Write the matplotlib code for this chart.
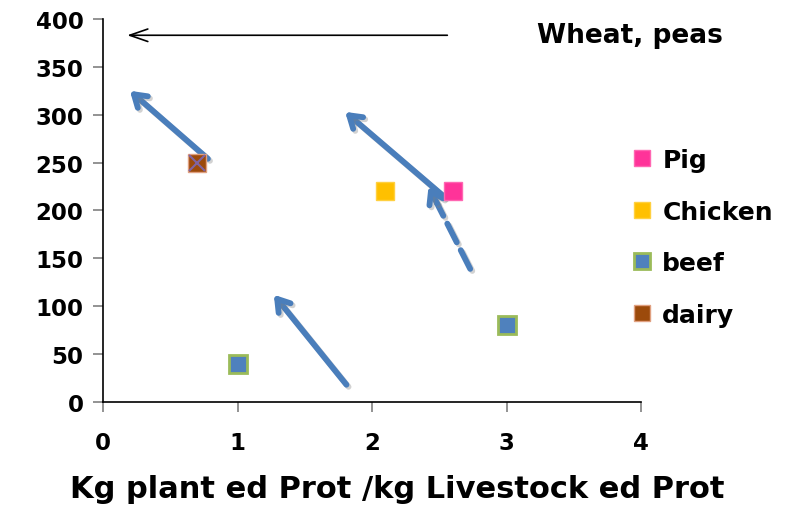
import matplotlib.pyplot as plt
import matplotlib.patheffects as pe

# series values
pig_x = [2.6]
pig_y = [220]
chicken_x = [2.1]
chicken_y = [220]
beef_x = [1.0, 3.0]
beef_y = [40, 80]
dairy_x = [0.7]
dairy_y = [250]

# arrows: (x_start, y_start, x_end, y_end) in data units
solid_arrows = [(0.78, 254, 0.20, 325),
                (2.54, 214, 1.80, 303),
                (1.81, 18, 1.27, 112)]
dashed_arrows = [(2.73, 139, 2.42, 225)]
wheat_arrow = (2.56, 383, 0.18, 383)
wheat_label = 'Wheat, peas'

x_ticks = [0, 1, 2, 3, 4]
y_ticks = [0, 50, 100, 150, 200, 250, 300, 350, 400]

plt.rcParams['font.family'] = ['DejaVu Sans']
plt.rcParams['font.weight'] = 'bold'

fig = plt.figure(figsize=(7.88, 5.06), dpi=100)
ax = fig.add_axes([0.1307, 0.2036, 0.8135 - 0.1307, 0.9605 - 0.2036])

ms = 13
ax.plot(pig_x, pig_y, 's', ms=ms, color='#FF3399', mec='#FF66B2', mew=1, label='Pig', zorder=3)
ax.plot(chicken_x, chicken_y, 's', ms=ms, color='#FFC000', mec='#FFD040', mew=1, label='Chicken', zorder=3)
ax.plot(beef_x, beef_y, 's', ms=ms, color='#4F81BD', mec='#9BBB59', mew=2, label='beef', zorder=3)
ax.plot(dairy_x, dairy_y, 's', ms=ms, color='#9C4A0B', mec='#E0A080', mew=1, label='dairy', zorder=3)
ax.plot(dairy_x, dairy_y, 'x', ms=ms - 2, color='#8064A2', mew=1.5, zorder=4)

shadow = [pe.SimpleLineShadow(offset=(1.5, -1.5), shadow_color='gray', alpha=0.35), pe.Normal()]
head = '->,head_length=0.85,head_width=0.55'
for x0, y0, x1, y1 in solid_arrows:
    ax.annotate('', xy=(x1, y1), xytext=(x0, y0),
                arrowprops=dict(arrowstyle=head, color='#4A7EBB', capstyle='round',
                                lw=4.2, shrinkA=0, shrinkB=0, path_effects=shadow), zorder=2)
for x0, y0, x1, y1 in dashed_arrows:
    # dashed shaft, then a short solid piece carrying the head
    xm, ym = x0 + (x1 - x0) * 0.8, y0 + (y1 - y0) * 0.8
    ax.annotate('', xy=(xm, ym), xytext=(x0, y0),
                arrowprops=dict(arrowstyle='-', color='#4A7EBB',
                                lw=4.2, ls=(0, (3.6, 1.5)), shrinkA=0, shrinkB=0, path_effects=shadow),
                zorder=2)
    ax.annotate('', xy=(x1, y1), xytext=(xm, ym),
                arrowprops=dict(arrowstyle=head, color='#4A7EBB',
                                lw=4.2, shrinkA=0, shrinkB=0, path_effects=shadow), zorder=2)

ax.annotate('', xy=wheat_arrow[2:], xytext=wheat_arrow[:2],
            arrowprops=dict(arrowstyle='->,head_length=1.3,head_width=0.45', color='black', lw=1.2,
                            shrinkA=0, shrinkB=0), zorder=2)
ax.text(3.23, 383, wheat_label, fontsize=19, fontweight='bold', va='center', ha='left')

ax.set_xlim(0, 4)
ax.set_ylim(0, 400)
ax.set_xticks(x_ticks)
ax.set_yticks(y_ticks)
for s in ['top', 'right']:
    ax.spines[s].set_visible(False)
for s in ['left', 'bottom']:
    ax.spines[s].set_color('black')
    ax.spines[s].set_linewidth(1.2)
ax.tick_params(axis='both', direction='out', length=7, width=1.2, color='#808080', labelsize=16.5)
ax.tick_params(axis='x', pad=14)
ax.tick_params(axis='y', pad=7)
for lab in ax.get_xticklabels() + ax.get_yticklabels():
    lab.set_fontweight('bold')

ax.set_xlabel('Kg plant ed Prot /kg Livestock ed Prot', fontsize=22, fontweight='bold', va='center')
ax.xaxis.set_label_coords(0.547, -0.226)

handles, labels = ax.get_legend_handles_labels()
fig.legend(handles, labels, loc='upper left', bbox_to_anchor=(0.777, 0.75), frameon=False,
           markerscale=0.9, handlelength=0.6, handletextpad=0.5, labelspacing=1.1,
           prop={'weight': 'bold', 'size': 18})

fig.savefig('out.png', dpi=100)
